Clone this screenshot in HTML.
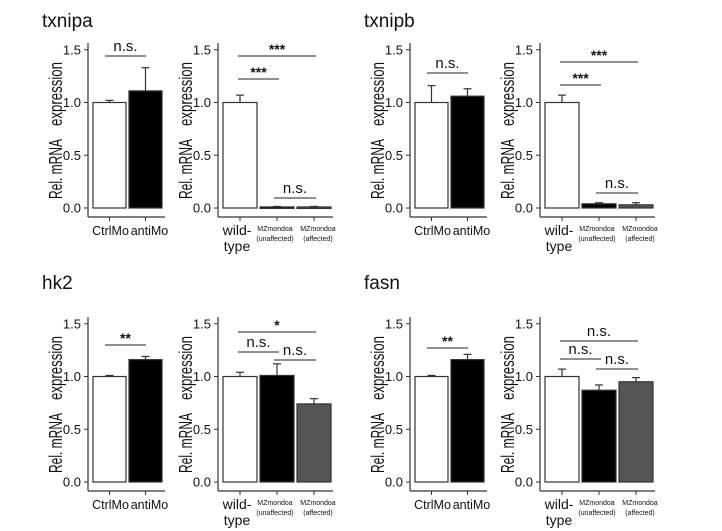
<!DOCTYPE html>
<html><head><meta charset="utf-8"><style>
html,body{margin:0;padding:0;background:#fff;}
svg{display:block;font-family:"Liberation Sans",Arial,sans-serif;}
</style></head><body>
<svg id="fig" width="722" height="531" viewBox="0 0 722 531" xmlns="http://www.w3.org/2000/svg"></svg>
<script>
// ---- data ----
const titles = ["txnipa","txnipb","hk2","fasn"];
const moCategories = ["CtrlMo","antiMo"];
const mzCategories = ["wild-type","MZmondoa (unaffected)","MZmondoa (affected)"];
const yTicks = [0,0.5,1.0,1.5];
const yTickLabels = ["0.0","0.5","1.0","1.5"];
// morpholino panels
const moValues = [[1.0,1.11],[1.0,1.06],[1.0,1.16],[1.0,1.16]];
const moErrors = [[0.02,0.22],[0.16,0.07],[0.01,0.03],[0.01,0.05]];
const moSig = ["n.s.","n.s.","**","**"];
// mutant panels
const mzValues = [[1.0,0.01,0.01],[1.0,0.04,0.03],[1.0,1.01,0.74],[1.0,0.87,0.95]];
const mzErrors = [[0.07,0.005,0.005],[0.07,0.01,0.02],[0.04,0.11,0.05],[0.07,0.05,0.04]];
const mzSigLabels = [["***","***","n.s."],["***","***","n.s."],["*","n.s.","n.s."],["n.s.","n.s.","n.s."]];

const NS="http://www.w3.org/2000/svg";
const svg=document.getElementById('fig');
function mk(tag,attrs,parent,text){const e=document.createElementNS(NS,tag);for(const k in attrs)e.setAttribute(k,attrs[k]);if(text!==undefined)e.textContent=text;(parent||svg).appendChild(e);return e;}

const PX=105.5;
const fillMo=["#fff","#000"];
const fillMz=["#fff","#000","#555"];
const place=[[0,208],[322,208],[0,482],[322,482]];
const titleY=[27,27,289,289];
const moSigY=[152,135,137,134];
const mzSigY=[[152,129,10],[146,123,15],[150,130,122],[141,123,113]];

function yAxis(g,ax,y0){
  mk('line',{x1:ax,y1:y0-165,x2:ax,y2:y0+9,stroke:'#333','stroke-width':1.2},g);
  yTicks.forEach((t,i)=>{const y=y0-t*PX;
    mk('line',{x1:ax-4,y1:y,x2:ax,y2:y,stroke:'#333','stroke-width':1},g);
    const tl=mk('text',{x:ax-7,y:y+4.5,'text-anchor':'end','font-size':13,fill:'#111'},g,yTickLabels[i]);
    
    
  });
  const cx=ax-26;
  const c1=y0-114, c2=y0-39;
  const a=mk('text',{x:cx,y:c1,'text-anchor':'middle','font-size':18,fill:'#111',textLength:64,lengthAdjust:'spacingAndGlyphs',transform:`rotate(-90 ${cx} ${c1})`},g,"expression");
  
  
  const b=mk('text',{x:cx,y:c2,'text-anchor':'middle','font-size':18,fill:'#111',textLength:60,lengthAdjust:'spacingAndGlyphs',transform:`rotate(-90 ${cx} ${c2})`},g,"Rel. mRNA");
  
  
}
function sigLine(g,x1,x2,y,label,fs){
  mk('line',{x1:x1,y1:y,x2:x2,y2:y,stroke:'#222','stroke-width':1.1},g);
  const star=label.startsWith('*');
  const t=mk('text',{x:(x1+x2)/2,y:star?y-2:y-5,'text-anchor':'middle','font-size':star?14:fs,'font-weight':star?'bold':'normal',fill:'#111'},g,label);
  
  
}
function bar(g,x,w,y0,v,e,fill,name){
  const top=y0-v*PX;
  if(e>0){const et=y0-(v+e)*PX;
    mk('line',{x1:x+w/2,y1:top,x2:x+w/2,y2:et,stroke:'#333','stroke-width':1.2},g);
    mk('line',{x1:x+w/2-4,y1:et,x2:x+w/2+4,y2:et,stroke:'#333','stroke-width':1.2},g);}
  const r=mk('rect',{x:x,y:top,width:w,height:Math.max(v*PX,1.5),fill:fill,stroke:'#333','stroke-width':1.2},g);
  
  
}

titles.forEach((title,p)=>{
  const [ox,y0]=place[p];
  const tt=mk('text',{x:42+ox,y:titleY[p],'font-size':19,fill:'#111'},svg,title);
  
  
  const g1=mk('g',{});
  
  
  const ax1=88+ox;
  yAxis(g1,ax1,y0);
  mk('line',{x1:ax1,y1:y0+9,x2:ax1+77,y2:y0+9,stroke:'#333','stroke-width':1.2},g1);
  moCategories.forEach((c,i)=>{
    const bx=ax1+5+i*36, bw=33;
    bar(g1,bx,bw,y0,moValues[p][i],moErrors[p][i],fillMo[i],'bar-'+c.toLowerCase());
    mk('line',{x1:bx+bw/2,y1:y0+9,x2:bx+bw/2,y2:y0+13,stroke:'#333'},g1);
    const l=mk('text',{x:i===0?bx+bw/2+1:bx+bw/2+4,y:y0+27,'text-anchor':'middle','font-size':12.5,fill:'#111'},g1,c);
    
    
  });
  sigLine(g1,ax1+17,ax1+58,y0-moSigY[p],moSig[p],15);
  const g2=mk('g',{});
  
  
  const ax2=218+ox;
  yAxis(g2,ax2,y0);
  mk('line',{x1:ax2,y1:y0+9,x2:ax2+115,y2:y0+9,stroke:'#333','stroke-width':1.2},g2);
  const cx=[];
  mzCategories.forEach((c,i)=>{
    const bx=ax2+5+i*37, bw=34;
    cx.push(bx+bw/2);
    bar(g2,bx,bw,y0,mzValues[p][i],mzErrors[p][i],fillMz[i],'bar-'+['wild-type','mz-unaffected','mz-affected'][i]);
    mk('line',{x1:bx+bw/2,y1:y0+9,x2:bx+bw/2,y2:y0+13,stroke:'#333'},g2);
    if(i===0){
      const a=mk('text',{x:bx+bw/2-3,y:y0+27,'text-anchor':'middle','font-size':14,fill:'#111'},g2,"wild-");
      
      const b=mk('text',{x:bx+bw/2-3,y:y0+43,'text-anchor':'middle','font-size':14,fill:'#111'},g2,"type");
      
    } else {
      const lx=i===1?bx+bw/2-2:bx+bw/2+4;
      const a=mk('text',{x:lx,y:y0+23,'text-anchor':'middle','font-size':7,fill:'#111'},g2,"MZmondoa");
      
      const b=mk('text',{x:lx,y:y0+33,'text-anchor':'middle','font-size':7,fill:'#111'},g2,i===1?"(unaffected)":"(affected)");
      
    }
  });
  const sy=mzSigY[p], sl=mzSigLabels[p];
  sigLine(g2,cx[0]-2,cx[2]+2,y0-sy[0],sl[0],15);
  sigLine(g2,cx[0]-2,cx[1]+2,y0-sy[1],sl[1],15);
  sigLine(g2,cx[1]-3,cx[2]+2,y0-sy[2],sl[2],15);
});
</script>
</body></html>
